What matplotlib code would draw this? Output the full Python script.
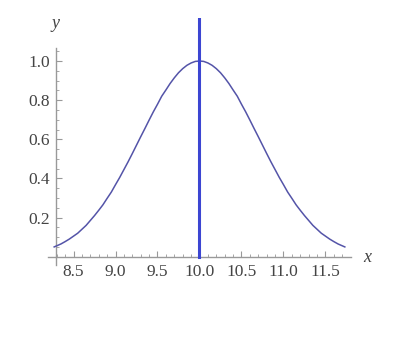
import matplotlib
matplotlib.use("Agg")
import matplotlib.pyplot as plt

# Data
x_vals = [8.27, 8.35, 8.4, 8.45, 8.5, 8.55, 8.6, 8.65, 8.7, 8.75, 8.8, 8.85, 8.9, 8.95, 9.0, 9.05, 9.1, 9.15,
          9.2, 9.25, 9.3, 9.35, 9.4, 9.45, 9.5, 9.55, 9.6, 9.65, 9.7, 9.75, 9.8, 9.85, 9.9, 9.95, 10.0,
          10.05, 10.1, 10.15, 10.2, 10.25, 10.3, 10.35, 10.4, 10.45, 10.5, 10.55, 10.6, 10.65, 10.7, 10.75,
          10.8, 10.85, 10.9, 10.95, 11.0, 11.05, 11.1, 11.15, 11.2, 11.25, 11.3, 11.35, 11.4, 11.45, 11.5,
          11.55, 11.6, 11.65, 11.73]
y_vals = [0.05, 0.065, 0.077, 0.09, 0.105, 0.12, 0.14, 0.16, 0.185, 0.21, 0.237, 0.265, 0.298, 0.33, 0.368,
          0.405, 0.445, 0.485, 0.527, 0.57, 0.613, 0.655, 0.698, 0.74, 0.779, 0.82, 0.852, 0.885, 0.914, 0.94,
          0.961, 0.978, 0.99, 0.998, 1.0,
          0.998, 0.99, 0.978, 0.961, 0.94, 0.914, 0.885, 0.852, 0.82, 0.779, 0.74, 0.698, 0.655, 0.613, 0.57,
          0.527, 0.485, 0.445, 0.405, 0.368, 0.33, 0.298, 0.265, 0.237, 0.21, 0.185, 0.16, 0.14, 0.12, 0.105,
          0.09, 0.077, 0.065, 0.05]
vline_x = 10.0
x_ticks = [8.5, 9.0, 9.5, 10.0, 10.5, 11.0, 11.5]
x_tick_labels = ["8.5", "9.0", "9.5", "10.0", "10.5", "11.0", "11.5"]
y_ticks = [0.2, 0.4, 0.6, 0.8, 1.0]
y_tick_labels = ["0.2", "0.4", "0.6", "0.8", "1.0"]

plt.rcParams['font.family'] = ['Liberation Serif', 'DejaVu Serif']

W, H = 416, 340
fig = plt.figure(figsize=(W / 100, H / 100), dpi=100)
left_px, right_px = 48.3, 350.7
top_px, bot_px = 18.0, 265.0
ax = fig.add_axes([left_px / W, 1 - bot_px / H, (right_px - left_px) / W, (bot_px - top_px) / H])
ax.set_xlim(8.2, 11.8)
ax.set_ylim(-0.0424, 1.2198)

ax.plot(x_vals, y_vals, color='#5454a8', lw=1.1, zorder=3)
ax.axvline(vline_x, ymin=(0 - (-0.0424)) / (1.2198 + 0.0424), ymax=1.0, color='#3c46d2', lw=2.2, zorder=4)

axis_col = '#999999'
for s in ['top', 'right']:
    ax.spines[s].set_visible(False)
ax.spines['bottom'].set_position(('data', 0))
ax.spines['bottom'].set_bounds(8.2, 11.8)
ax.spines['left'].set_position(('data', 8.29))
ax.spines['left'].set_bounds(-0.0424, 1.066)
for s in ['bottom', 'left']:
    ax.spines[s].set_color(axis_col)
    ax.spines[s].set_linewidth(1.0)

ax.set_xticks(x_ticks)
ax.set_xticklabels(x_tick_labels)
ax.set_yticks(y_ticks)
ax.set_yticklabels(y_tick_labels)
ax.set_xticks([v / 10 for v in range(83, 118)], minor=True)
ax.set_yticks([v / 20 for v in range(0, 22)], minor=True)
ax.tick_params(axis='both', which='major', direction='in', length=4, width=0.8, color=axis_col,
               labelsize=12.5, labelcolor='#444444')
ax.tick_params(axis='both', which='minor', direction='in', length=2.2, width=0.6, color=axis_col)
ax.tick_params(axis='x', which='major', pad=5)
ax.tick_params(axis='y', which='major', pad=4)

fig.text(55 / W, 1 - 24 / H, 'y', fontsize=13, style='italic', color='#444444', ha='center', va='center')
fig.text(367 / W, 1 - 258 / H, 'x', fontsize=13, style='italic', color='#444444', ha='center', va='center')

fig.savefig('out.png', dpi=100)
